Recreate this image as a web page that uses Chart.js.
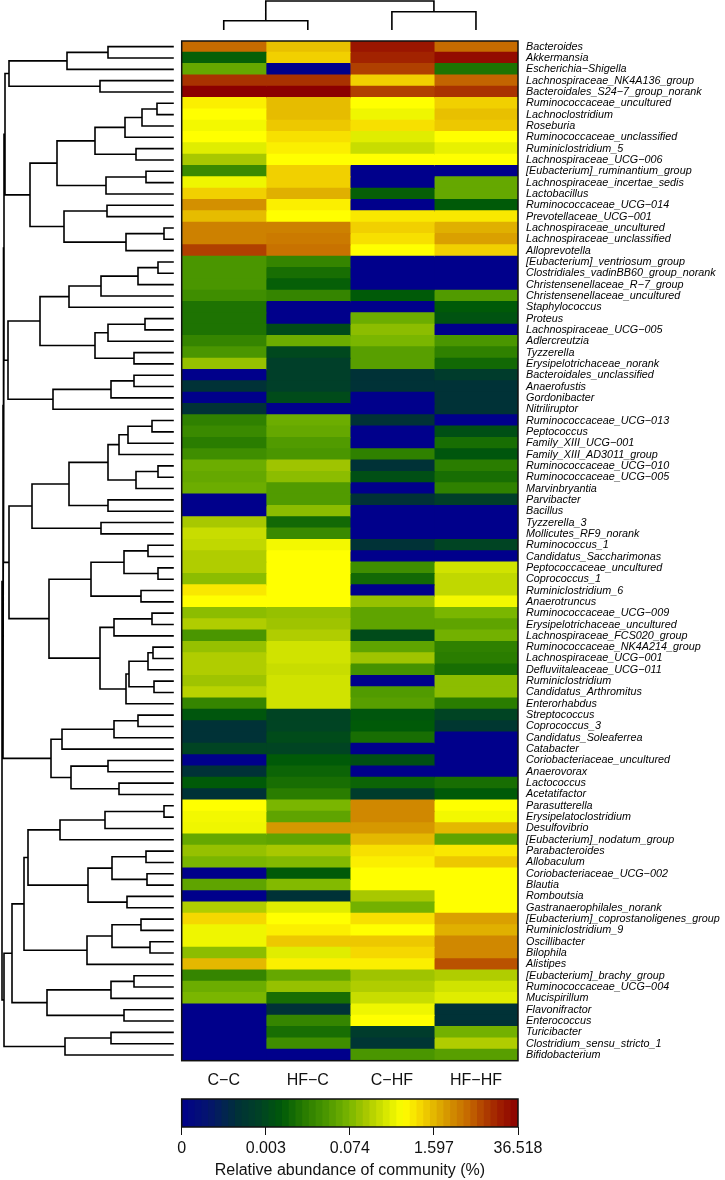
<!DOCTYPE html>
<html>
<head>
<meta charset="utf-8">
<script src="https://cdn.jsdelivr.net/npm/chart.js@4.4.0/dist/chart.umd.min.js"></script>
<style>
  body { margin: 0; background: #fff; }
  #page { position: relative; width: 725px; height: 1180px; overflow: hidden; }
  #page canvas { position: absolute; left: 0; top: 0; }
</style>
</head>
<body>
<div id="page">
  <canvas id="heat" width="725" height="1180"></canvas>
  <canvas id="rowTree" width="725" height="1180"></canvas>
  <canvas id="colTree" width="725" height="1180"></canvas>
  <canvas id="colourBar" width="725" height="1180"></canvas>
</div>
<script>
// ---- data (values are positions on the colour key, 0 = left end, 1 = right end) ----
const taxa = [
  "Bacteroides", "Akkermansia", "Escherichia−Shigella", "Lachnospiraceae_NK4A136_group",
  "Bacteroidales_S24−7_group_norank", "Ruminococcaceae_uncultured", "Lachnoclostridium", "Roseburia",
  "Ruminococcaceae_unclassified", "Ruminiclostridium_5", "Lachnospiraceae_UCG−006",
  "[Eubacterium]_ruminantium_group", "Lachnospiraceae_incertae_sedis", "Lactobacillus",
  "Ruminococcaceae_UCG−014", "Prevotellaceae_UCG−001", "Lachnospiraceae_uncultured",
  "Lachnospiraceae_unclassified", "Alloprevotella", "[Eubacterium]_ventriosum_group",
  "Clostridiales_vadinBB60_group_norank", "Christensenellaceae_R−7_group",
  "Christensenellaceae_uncultured", "Staphylococcus", "Proteus", "Lachnospiraceae_UCG−005",
  "Adlercreutzia", "Tyzzerella", "Erysipelotrichaceae_norank", "Bacteroidales_unclassified",
  "Anaerofustis", "Gordonibacter", "Nitriliruptor", "Ruminococcaceae_UCG−013", "Peptococcus",
  "Family_XIII_UCG−001", "Family_XIII_AD3011_group", "Ruminococcaceae_UCG−010",
  "Ruminococcaceae_UCG−005", "Marvinbryantia", "Parvibacter", "Bacillus", "Tyzzerella_3",
  "Mollicutes_RF9_norank", "Ruminococcus_1", "Candidatus_Saccharimonas",
  "Peptococcaceae_uncultured", "Coprococcus_1", "Ruminiclostridium_6", "Anaerotruncus",
  "Ruminococcaceae_UCG−009", "Erysipelotrichaceae_uncultured", "Lachnospiraceae_FCS020_group",
  "Ruminococcaceae_NK4A214_group", "Lachnospiraceae_UCG−001", "Defluviitaleaceae_UCG−011",
  "Ruminiclostridium", "Candidatus_Arthromitus", "Enterorhabdus", "Streptococcus",
  "Coprococcus_3", "Candidatus_Soleaferrea", "Catabacter", "Coriobacteriaceae_uncultured",
  "Anaerovorax", "Lactococcus", "Acetatifactor", "Parasutterella", "Erysipelatoclostridium",
  "Desulfovibrio", "[Eubacterium]_nodatum_group", "Parabacteroides", "Allobaculum",
  "Coriobacteriaceae_UCG−002", "Blautia", "Romboutsia", "Gastranaerophilales_norank",
  "[Eubacterium]_coprostanoligenes_group", "Ruminiclostridium_9", "Oscillibacter", "Bilophila",
  "Alistipes", "[Eubacterium]_brachy_group", "Ruminococcaceae_UCG−004", "Mucispirillum",
  "Flavonifractor", "Enterococcus", "Turicibacter", "Clostridium_sensu_stricto_1", "Bifidobacterium"
];

const groups = ["C−C", "HF−C", "C−HF", "HF−HF"];

const valuesCC = [
  .85, .31, .47, .92, 1.0, .68, .66, .645, .66, .62, .55, .40, .64, .72, .80, .745, .82, .82, .90,
  .43, .43, .43, .41, .35, .35, .35, .39, .43, .53, 0, .17, 0, .17,
  .38, .40, .37, .41, .48, .47, .48, 0, 0, .55, .59,
  .58, .56, .56, .52, .69, .66, .52, .56, .43, .53, .56, .56, .54, .57, .39,
  .29, .17, .17, .24, 0, .17, .30, .17,
  .66, .645, .64, .47, .53, .50, 0, .46, 0, .56, .71, .64, .64, .52, .75, .39, .48, .50, 0, 0,
  0, 0, 0
];
const valuesHFC = [
  .74, .72, 0, .92, 1.0, .745, .745, .73, .70, .68, .66, .72, .72, .76, .68, .66, .82, .83, .84,
  .39, .34, .31, .39, 0, 0, .26, .48, .25, .22, .22, .22, .26, 0,
  .48, .47, .44, .43, .54, .52, .44, .44, .52, .33, .40,
  .645, .66, .66, .66, .66, .66, .53, .54, .56, .60, .60, .59, .60, .60, .60,
  .24, .24, .26, .24, .30, .32, .34, .37,
  .50, .46, .79, .46, .55, .51, .30, .51, .17, .62, .66, .68, .73, .62, .68, .47, .53, .34, .17, .39,
  .34, .41, 0
];
const valuesCHF = [
  .96, .94, .90, .72, .90, .66, .64, .70, .62, .59, .66, 0, 0, .31, 0, .69, .72, .70, .66,
  0, 0, 0, .30, 0, .48, .52, .50, .45, .45, .17, .17, 0, 0,
  .17, 0, 0, .38, .17, .27, 0, .17, 0, 0, 0,
  .17, 0, .41, .33, 0, .53, .46, .46, .26, .46, .54, .42, 0, .44, .45,
  .29, .30, .34, 0, .27, 0, .32, .21,
  .81, .81, .79, .75, .70, .68, .66, .66, .55, .49, .70, .66, .73, .71, .68, .54, .56, .59, .64, .66,
  .21, .18, .43
];
const valuesHFHF = [
  .85, .98, .35, .86, .92, .72, .74, .73, .66, .63, .66, 0, .47, .47, .30, .69, .76, .78, .72,
  0, 0, 0, .44, .30, .28, 0, .43, .38, .33, .21, .17, .17, .17,
  0, .27, .34, .29, .37, .34, .38, .22, 0, 0, 0,
  .24, 0, .60, .58, .58, .645, .50, .46, .49, .38, .37, .34, .52, .52, .37,
  .24, .19, 0, 0, 0, 0, .34, .30,
  .66, .645, .75, .46, .69, .73, .66, .66, .66, .66, .78, .76, .81, .81, .88, .56, .60, .62, .17, .17,
  .49, .56, .45
];

const keyTicks = ["0", "0.003", "0.074", "1.597", "36.518"];
const keyTitle = "Relative abundance of community (%)";

// row clustering: [left, right, merge height]; leaves are row indices
const clusterA = [[[0, 1, 65], 2, 106], [3, 4, 73], 164];
const clusterB1 = [[[[5, 6, 16], 7, 31], 8, 48], [9, 10, 37], 78];
const clusterB2 = [[11, 12, 27], 13, 67];
const clusterB3 = [[14, 15, 66], [[16, 17, 9], 18, 47], 109];
const clusterB = [[clusterB1, clusterB2, 116], clusterB3, 143];
const clusterC1 = [[[[19, 20, 15], 21, 35], 22, 72], 23, 104];
const clusterC2 = [[[24, 25, 28], 26, 65], [27, 28, 39], 78];
const clusterC3 = [[[29, 30, 39], 31, 62], 32, 120];
const clusterC = [[clusterC1, clusterC2, 133], clusterC3, 165];
const clusterD1 = [[[[33, 34, 21], 35, 45], 36, 54], [[37, 38, 15], 39, 37], 65];
const clusterD2 = [[clusterD1, [40, 41, 65], 104], [42, 43, 72], 141];
const clusterD3 = [[[44, 45, 25], [46, 47, 15], 49], [48, 49, 32], 82];
const clusterD4 = [[[50, 51, 21], 52, 59], [[[[53, 54, 20], 55, 25], [56, 57, 19], 44], 58, 47], 73];
const clusterD = [clusterD2, [clusterD3, clusterD4, 124], 164];
const clusterE = [[[[59, 60, 35], 61, 59], 62, 111], [[63, 64, 65], [65, 66, 54], 102], 122];
const clusterF1 = [[[67, 68, 9], 69, 68], 70, 113];
const clusterF2 = [[[71, 72, 27], [73, 74, 26], 61], [75, 76, 46], 85];
const clusterF3 = [[[77, 78, 32], [79, 80, 23], 61], 81, 86];
const clusterF4 = [[[82, 83, 39], 84, 62], [85, 86, 49], 126];
const clusterF = [[[clusterF1, clusterF2, 145], clusterF3, 149], clusterF4, 161];
const clusterG = [[87, 88, 62], 89, 108];
const rowTree = [[[[[clusterA, clusterB, 168], clusterC, 169], clusterD, 169.5], clusterE, 170],
                 [clusterF, clusterG, 169], 171];

// column clustering
const colTree = [[0, 1, 8.6], [2, 3, 17.6], 28.3];

// ---- colour key ----
const keyStops = [
  [0.00, [0, 0, 139]], [0.08, [5, 20, 110]], [0.17, [0, 50, 55]], [0.24, [0, 68, 35]],
  [0.30, [0, 90, 8]], [0.37, [42, 125, 0]], [0.43, [74, 150, 0]], [0.50, [122, 182, 0]],
  [0.55, [168, 200, 0]], [0.61, [216, 232, 0]], [0.66, [255, 255, 0]], [0.71, [245, 216, 0]],
  [0.76, [224, 176, 0]], [0.81, [208, 136, 0]], [0.86, [195, 100, 0]], [0.90, [176, 64, 0]],
  [0.95, [158, 28, 0]], [1.00, [139, 0, 0]]
];

function colourAt(t) {
  t = Math.max(0, Math.min(1, t));
  for (let i = 1; i < keyStops.length; i++) {
    const [t1, c1] = keyStops[i];
    const [t0, c0] = keyStops[i - 1];
    if (t <= t1) {
      const f = (t - t0) / (t1 - t0);
      const c = c0.map((v, k) => Math.round(v + (c1[k] - v) * f));
      return `rgb(${c[0]}, ${c[1]}, ${c[2]})`;
    }
  }
  return "rgb(139, 0, 0)";
}

Chart.defaults.font.family = "'Liberation Sans', Arial, sans-serif";
Chart.defaults.color = "#111";

const frame = {
  id: "frame",
  afterDatasetsDraw(chart) {
    const a = chart.chartArea;
    const ctx = chart.ctx;
    ctx.save();
    ctx.lineWidth = 1.5;
    ctx.strokeStyle = "#111";
    ctx.strokeRect(a.left, a.top, a.right - a.left, a.bottom - a.top);
    ctx.restore();
  }
};

// page geometry
const heatLeft = 181.7, heatRight = 518, heatTop = 41, heatBottom = 1060.7;
const W = 725, H = 1180;

// ---- heatmap ----
const columns = [valuesCC, valuesHFC, valuesCHF, valuesHFHF];

new Chart(document.getElementById("heat"), {
  type: "bar",
  data: {
    labels: taxa,
    datasets: groups.map((g, j) => ({
      label: g,
      data: columns[j].map(() => 1),
      backgroundColor: columns[j].map(colourAt),
      borderWidth: 0,
      inflateAmount: 0.6,
      categoryPercentage: 1,
      barPercentage: 1,
    })),
  },
  options: {
    indexAxis: "y",
    responsive: false,
    animation: false,
    layout: { padding: { left: heatLeft, top: heatTop, right: 0, bottom: H - heatBottom - 40 } },
    plugins: { legend: { display: false }, tooltip: { enabled: false } },
    scales: {
      x: {
        type: "linear",
        stacked: true,
        min: 0,
        max: 4,
        position: "bottom",
        grid: { display: false, drawTicks: false },
        border: { display: false },
        afterBuildTicks: (s) => { s.ticks = groups.map((g, i) => ({ value: i + 0.5 })); },
        afterFit: (s) => { s.height = 40; },
        ticks: { padding: 10, font: { size: 16 }, callback: (v, i) => groups[i] },
      },
      y: {
        stacked: true,
        position: "right",
        grid: { display: false, drawTicks: false },
        border: { display: false },
        afterFit: (s) => { s.width = W - heatRight; },
        ticks: { padding: 8, autoSkip: false, color: "#000", font: { size: 10.8, style: "italic" } },
      },
    },
  },
  plugins: [frame],
});

// ---- dendrograms ----
function treeSegments(node, out, horizontal) {
  if (!Array.isArray(node)) return { pos: node + 0.5, h: 0 };
  const L = treeSegments(node[0], out, horizontal);
  const R = treeSegments(node[1], out, horizontal);
  const h = node[2];
  const pts = [[L.pos, L.h], [L.pos, h], [R.pos, h], [R.pos, R.h]];
  pts.forEach(([p, v]) => out.push(horizontal ? { x: v, y: p } : { x: p, y: v }));
  out.push({ x: NaN, y: NaN });
  return { pos: (L.pos + R.pos) / 2, h };
}

const rowSegments = [];
treeSegments(rowTree, rowSegments, true);
const colSegments = [];
treeSegments(colTree, colSegments, false);

const treeLine = {
  showLine: true,
  borderColor: "#000",
  borderWidth: 1.6,
  pointRadius: 0,
  spanGaps: false,
  clip: false,
  borderCapStyle: "square",
  borderJoinStyle: "miter",
};

new Chart(document.getElementById("rowTree"), {
  type: "scatter",
  data: { datasets: [{ ...treeLine, data: rowSegments }] },
  options: {
    responsive: false,
    animation: false,
    layout: { padding: { left: 0, right: W - 173, top: heatTop, bottom: H - heatBottom } },
    plugins: { legend: { display: false }, tooltip: { enabled: false } },
    scales: {
      x: { type: "linear", display: false, min: 0, max: 173, reverse: true },
      y: { type: "linear", display: false, min: 0, max: taxa.length, reverse: true },
    },
  },
});

new Chart(document.getElementById("colTree"), {
  type: "scatter",
  data: { datasets: [{ ...treeLine, data: colSegments }] },
  options: {
    responsive: false,
    animation: false,
    layout: { padding: { left: heatLeft, right: W - heatRight, top: 0, bottom: H - 29.3 } },
    plugins: { legend: { display: false }, tooltip: { enabled: false } },
    scales: {
      x: { type: "linear", display: false, min: 0, max: groups.length },
      y: { type: "linear", display: false, min: 0, max: 29.3 },
    },
  },
});

// ---- colour key ----
const keyBins = Array.from({ length: 50 }, (_, i) => (i + 0.5) / 50);

new Chart(document.getElementById("colourBar"), {
  type: "bar",
  data: {
    labels: keyBins.map((_, i) => i),
    datasets: [{
      data: keyBins.map(() => 1),
      backgroundColor: keyBins.map(colourAt),
      borderWidth: 0,
      inflateAmount: 0.6,
      categoryPercentage: 1,
      barPercentage: 1,
    }],
  },
  options: {
    responsive: false,
    animation: false,
    layout: { padding: { left: heatLeft, right: W - heatRight, top: 1099, bottom: 0 } },
    plugins: { legend: { display: false }, tooltip: { enabled: false } },
    scales: {
      x: { display: false },
      y: { display: false, min: 0, max: 1 },
      x2: {
        type: "linear",
        axis: "x",
        position: "bottom",
        offset: false,
        min: 0,
        max: 1,
        afterBuildTicks: (s) => { s.ticks = keyTicks.map((_, i) => ({ value: i / (keyTicks.length - 1) })); },
        afterFit: (s) => { s.height = 53; },
        grid: { offset: false, drawOnChartArea: false, tickLength: 8, color: "#111", lineWidth: 1 },
        border: { display: false },
        ticks: { padding: 4, autoSkip: false, maxRotation: 0, font: { size: 16 }, callback: (v, i) => keyTicks[i] },
        title: { display: true, text: keyTitle, font: { size: 16 }, padding: { top: 0, bottom: 0 } },
      },
    },
  },
  plugins: [frame],
});
</script>
</body>
</html>
